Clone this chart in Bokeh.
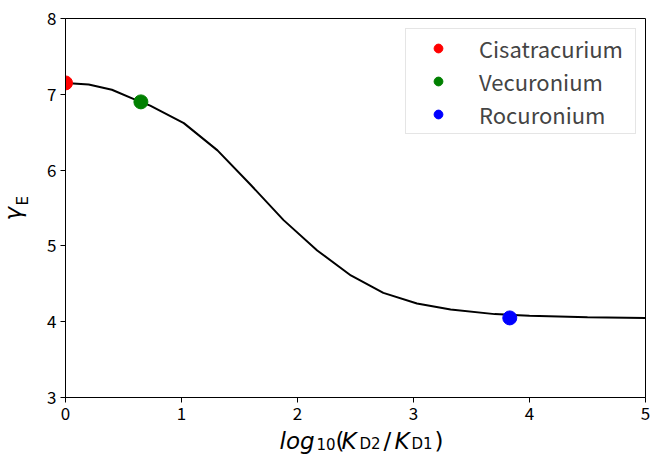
import math
from bokeh.plotting import figure
from bokeh.models import Range1d, Legend, LegendItem
from bokeh.layouts import row, column
from bokeh.core.properties import value
from bokeh.embed import file_html
from bokeh.resources import INLINE

# ---- data ----
curve_x = [0, 0.2, 0.4, 0.6, 0.73, 1.02, 1.31, 1.6, 1.88, 2.17, 2.46, 2.74,
           3.03, 3.32, 3.7, 4.0, 4.5, 5.0]
curve_y = [7.15, 7.13, 7.06, 6.93, 6.85, 6.62, 6.26, 5.80, 5.34, 4.94, 4.61,
           4.38, 4.24, 4.16, 4.10, 4.08, 4.06, 4.05]
drug_names = ["Cisatracurium", "Vecuronium", "Rocuronium"]
drug_x = [0.0, 0.65, 3.83]
drug_y = [7.15, 6.90, 4.05]
drug_colors = ["red", "green", "blue"]
x_ticks = [0, 1, 2, 3, 4, 5]
y_ticks = [3, 4, 5, 6, 7, 8]

FONT = "Noto Sans CJK JP"
MATH_FONT = "DejaVu Sans"

LEFT_W = 40
MAIN_W = 620
MAIN_H = 427
XLAB_H = 37
BL, BR = 25, 15

p = figure(width=MAIN_W, height=MAIN_H, output_backend="svg",
           toolbar_location=None,
           x_range=Range1d(0, 5), y_range=Range1d(3, 8),
           min_border_left=BL, min_border_right=BR, min_border_top=18,
           min_border_bottom=30)
p.background_fill_color = "white"
p.border_fill_color = "white"
p.outline_line_color = "black"
p.outline_line_width = 1
p.grid.visible = False

for ax in (p.xaxis[0], p.yaxis[0]):
    ax.major_label_text_font = FONT
    ax.major_label_text_font_size = "17px"
    ax.major_label_text_color = "black"
    ax.major_tick_out = 5
    ax.major_tick_in = 0
    ax.minor_tick_out = 0
    ax.minor_tick_in = 0
    ax.axis_line_color = "black"
    ax.major_tick_line_color = "black"
    ax.major_label_standoff = 4
p.xaxis.ticker = x_ticks
p.yaxis.ticker = y_ticks

p.line(curve_x, curve_y, line_color="black", line_width=2)

items = []
for name, xx, yy, c in zip(drug_names, drug_x, drug_y, drug_colors):
    r = p.scatter([xx], [yy], size=14, fill_color=c, line_color=c)
    items.append(LegendItem(label=name, renderers=[r]))

legend = Legend(items=items, location=(340, 263), margin=0,
                label_text_font=FONT, label_text_font_size="22px",
                label_height=22, label_width=153,
                glyph_height=22, glyph_width=58,
                spacing=1, padding=3, label_standoff=12,
                border_line_color="#cccccc", border_line_width=1,
                background_fill_color="white", background_fill_alpha=0.8)
p.add_layout(legend)


def text_fig(w, h, xr, yr, bl=0, br=0):
    f = figure(width=w, height=h, output_backend="svg", toolbar_location=None,
               x_axis_type=None, y_axis_type=None,
               x_range=Range1d(*xr), y_range=Range1d(*yr),
               min_border=0, min_border_left=bl, min_border_right=br,
               min_border_top=0, min_border_bottom=0)
    f.grid.visible = False
    f.outline_line_color = None
    f.background_fill_color = "white"
    f.border_fill_color = "white"
    return f


def piece(f, text, x, y, size, italic=False, angle=0.0):
    f.text(x=[x], y=[y], text=[text], text_font=value(MATH_FONT),
           text_font_size=size,
           text_font_style="italic" if italic else "normal",
           text_align="left", text_baseline="alphabetic", angle=angle,
           text_color="black")


# x-axis label (page pixel positions; frame aligned with the main frame)
xl = text_fig(MAIN_W, XLAB_H, (LEFT_W + BL, LEFT_W + MAIN_W - BR),
              (MAIN_H + XLAB_H, MAIN_H), bl=BL, br=BR)
mb = 440   # main baseline
sb = 443   # subscript baseline
piece(xl, "log", 279, mb, "23px", italic=True)
piece(xl, "10", 316, sb, "15px")
piece(xl, "(", 335, mb, "23px")
piece(xl, "K", 341, mb, "23px", italic=True)
piece(xl, "D2", 359, sb, "15px")
piece(xl, "/", 383, mb, "23px")
piece(xl, "K", 394, mb, "23px", italic=True)
piece(xl, "D1", 411, sb, "15px")
piece(xl, ")", 434, mb, "23px")

# y-axis label
yl = text_fig(LEFT_W, MAIN_H + XLAB_H, (0, LEFT_W), (MAIN_H + XLAB_H, 0))
piece(yl, "γ", 12, 220, "23px", italic=True, angle=math.pi / 2)
piece(yl, "E", 22, 205, "15px", angle=math.pi / 2)

layout = row(yl, column(p, xl, spacing=0), spacing=0)

open("out.html", "w").write(file_html(layout, INLINE))
